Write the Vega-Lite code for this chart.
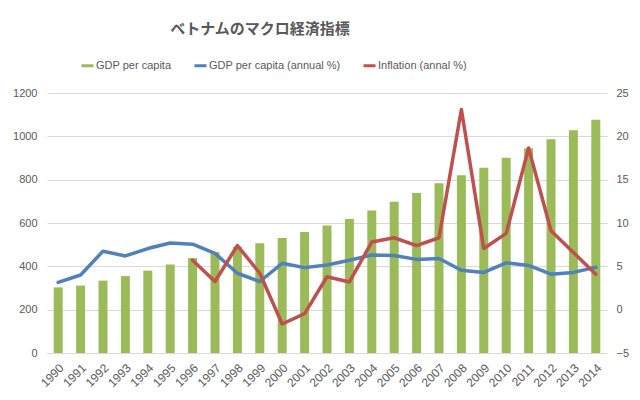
{
  "$schema": "https://vega.github.io/schema/vega-lite/v6.json",
  "autosize": {"type": "none"},
  "padding": {"left": 47, "top": 93, "right": 33, "bottom": 47},
  "width": 560,
  "height": 260,
  "background": "white",
  "title": {
    "text": "ベトナムのマクロ経済指標",
    "font": "Noto Sans CJK JP",
    "fontSize": 15,
    "fontWeight": "bold",
    "color": "#595959",
    "anchor": "middle",
    "frame": "group",
    "dx": -67,
    "offset": 23
  },
  "config": {
    "view": {"stroke": null},
    "font": "Liberation Sans",
    "axis": {"labelColor": "#595959", "labelFontSize": 11, "labelFont": "Liberation Sans", "ticks": false, "domain": false, "title": null},
    "legend": {"labelColor": "#595959", "labelFontSize": 11, "labelFont": "Liberation Sans"}
  },
  "data": {
    "values": [
      {"year": "1990", "gdp": 303, "growth": 3.15, "inflation": null},
      {"year": "1991", "gdp": 311, "growth": 4.0, "inflation": null},
      {"year": "1992", "gdp": 334, "growth": 6.75, "inflation": null},
      {"year": "1993", "gdp": 355, "growth": 6.2, "inflation": null},
      {"year": "1994", "gdp": 380, "growth": 7.05, "inflation": null},
      {"year": "1995", "gdp": 409, "growth": 7.7, "inflation": null},
      {"year": "1996", "gdp": 438, "growth": 7.55, "inflation": 5.7},
      {"year": "1997", "gdp": 466, "growth": 6.5, "inflation": 3.25},
      {"year": "1998", "gdp": 490, "growth": 4.2, "inflation": 7.4},
      {"year": "1999", "gdp": 506, "growth": 3.25, "inflation": 4.2},
      {"year": "2000", "gdp": 531, "growth": 5.35, "inflation": -1.65},
      {"year": "2001", "gdp": 558, "growth": 4.85, "inflation": -0.45},
      {"year": "2002", "gdp": 588, "growth": 5.15, "inflation": 3.8},
      {"year": "2003", "gdp": 618, "growth": 5.7, "inflation": 3.2},
      {"year": "2004", "gdp": 658, "growth": 6.3, "inflation": 7.8},
      {"year": "2005", "gdp": 698, "growth": 6.25, "inflation": 8.3},
      {"year": "2006", "gdp": 738, "growth": 5.8, "inflation": 7.4},
      {"year": "2007", "gdp": 783, "growth": 5.9, "inflation": 8.3},
      {"year": "2008", "gdp": 820, "growth": 4.55, "inflation": 23.1},
      {"year": "2009", "gdp": 855, "growth": 4.3, "inflation": 7.05},
      {"year": "2010", "gdp": 901, "growth": 5.4, "inflation": 8.8},
      {"year": "2011", "gdp": 945, "growth": 5.1, "inflation": 18.65},
      {"year": "2012", "gdp": 986, "growth": 4.1, "inflation": 9.1},
      {"year": "2013", "gdp": 1028, "growth": 4.3, "inflation": 6.6},
      {"year": "2014", "gdp": 1077, "growth": 4.9, "inflation": 4.1}
    ]
  },
  "encoding": {
    "x": {
      "field": "year",
      "type": "ordinal",
      "scale": {"paddingInner": 0.6, "paddingOuter": 0.3},
      "axis": {"labelAngle": -45, "domain": true, "domainColor": "#D9D9D9", "labelPadding": 9, "labelFontSize": 12}
    }
  },
  "layer": [
    {
      "mark": {"type": "bar", "color": "#9BBB59"},
      "encoding": {
        "y": {
          "field": "gdp",
          "type": "quantitative",
          "scale": {"domain": [0, 1200], "nice": false},
          "axis": {"orient": "left", "values": [0, 200, 400, 600, 800, 1000, 1200], "format": "d", "grid": true, "gridColor": "#D9D9D9", "labelPadding": 10}
        },
        "color": {
          "datum": "GDP per capita",
          "scale": {
            "domain": ["GDP per capita", "GDP per capita (annual %)", "Inflation (annal %)"],
            "range": ["#9BBB59", "#4F81BD", "#C0504D"]
          },
          "legend": {
            "orient": "none",
            "direction": "horizontal",
            "legendX": 35,
            "legendY": -33,
            "title": null,
            "symbolType": "M-1.2,-0.3L1.2,-0.3L1.2,0.3L-1.2,0.3Z",
            "symbolSize": 100,
            "symbolStrokeWidth": 0,
            "columnPadding": 22,
            "labelOffset": 3
          }
        }
      }
    },
    {
      "layer": [
        {
          "mark": {"type": "line", "strokeWidth": 3.5, "strokeJoin": "round", "strokeCap": "round"},
          "encoding": {
            "y": {
              "field": "growth",
              "type": "quantitative",
              "scale": {"domain": [-5, 25], "nice": false},
              "axis": {"orient": "right", "values": [-5, 0, 5, 10, 15, 20, 25], "grid": false, "labelPadding": 9}
            },
            "color": {"datum": "GDP per capita (annual %)"}
          }
        },
        {
          "mark": {"type": "line", "strokeWidth": 3.5, "strokeJoin": "round", "strokeCap": "round"},
          "encoding": {
            "y": {
              "field": "inflation",
              "type": "quantitative",
              "scale": {"domain": [-5, 25], "nice": false},
              "axis": {"orient": "right", "values": [-5, 0, 5, 10, 15, 20, 25], "grid": false, "labelPadding": 9}
            },
            "color": {"datum": "Inflation (annal %)"}
          }
        }
      ]
    }
  ],
  "resolve": {"scale": {"y": "independent"}}
}
